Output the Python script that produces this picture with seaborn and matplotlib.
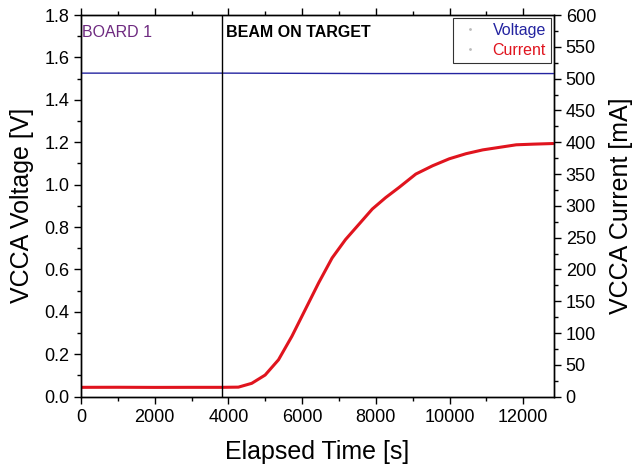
import numpy as np
import pandas as pd
import matplotlib
matplotlib.use("Agg")
import matplotlib.pyplot as plt
from matplotlib.lines import Line2D
from matplotlib.ticker import MultipleLocator, FormatStrFormatter
import seaborn as sns

# Values
time_current = [0, 1000, 2000, 3000, 3815, 4270, 4632, 4995, 5358, 5722, 6085,
                6448, 6812, 7176, 7540, 7903, 8266, 8630, 9084, 9538, 9992,
                10446, 10900, 11354, 11808, 12262, 12807]
current_ma = [14.7, 14.8, 14.6, 14.7, 14.7, 15.0, 21, 34, 58, 95, 137,
              179, 218, 247, 271, 295, 313, 329, 350, 363, 374,
              382, 388, 392, 396, 397, 398]
time_voltage = [0, 4000, 8000, 12830]
voltage_v = [1.526, 1.526, 1.524, 1.524]
beam_on_time = 3815

sns.set_theme(style="ticks", rc={'text.color': 'black', 'axes.labelcolor': 'black',
                                 'xtick.color': 'black', 'ytick.color': 'black'})
plt.rcParams['font.family'] = ['Liberation Sans', 'DejaVu Sans']

fig = plt.figure(figsize=(6.33, 4.70), dpi=100)
ax = fig.add_axes([0.128, 0.156, 0.747, 0.812])
ax2 = ax.twinx()

volt = pd.DataFrame({'t': time_voltage, 'v': voltage_v})
cur = pd.DataFrame({'t': time_current, 'i': current_ma})

sns.lineplot(data=volt, x='t', y='v', ax=ax, color='#2424a0', linewidth=1.0)
sns.lineplot(data=cur, x='t', y='i', ax=ax2, color='#e0141e', linewidth=2.2)

ax.axvline(beam_on_time, color='black', linewidth=1.0)

ax.set_xlim(0, 12830)
ax.set_ylim(0, 1.8)
ax2.set_ylim(0, 600)

ax.xaxis.set_major_locator(MultipleLocator(2000))
ax.xaxis.set_minor_locator(MultipleLocator(1000))
ax.yaxis.set_major_locator(MultipleLocator(0.2))
ax.yaxis.set_minor_locator(MultipleLocator(0.1))
ax2.yaxis.set_major_locator(MultipleLocator(50))
ax2.yaxis.set_minor_locator(MultipleLocator(25))
ax.yaxis.set_major_formatter(FormatStrFormatter('%.1f'))

ax.tick_params(axis='both', which='major', labelsize=13, length=5, width=1,
               direction='out', color='black', labelcolor='black')
ax.tick_params(axis='both', which='minor', length=3, width=1, direction='out')
ax.tick_params(axis='x', which='both', top=True, pad=4)
ax2.tick_params(axis='y', which='major', labelsize=13, length=5, width=1,
                direction='out', labelcolor='black')
ax2.tick_params(axis='y', which='minor', length=3, width=1, direction='out')

for a in (ax, ax2):
    for s in a.spines.values():
        s.set_visible(True)
        s.set_color('black')
        s.set_linewidth(1.0)

ax.set_xlabel('Elapsed Time [s]', fontsize=18, labelpad=10)
ax.set_ylabel('VCCA Voltage [V]', fontsize=18, labelpad=7)
ax2.set_ylabel('VCCA Current [mA]', fontsize=18, labelpad=9)

ax.text(0.003, 0.975, 'BOARD 1', transform=ax.transAxes, color='#6e2a80',
        fontsize=11.5, va='top', ha='left')
ax.text(beam_on_time + 120, 1.755, 'BEAM ON TARGET', color='black',
        fontsize=11.5, fontweight='bold', va='top', ha='left')

handles = [Line2D([], [], linestyle='none', marker='.', markersize=2, color='#bbbbbb'),
           Line2D([], [], linestyle='none', marker='.', markersize=2, color='#bbbbbb')]
leg = ax.legend(handles, ['Voltage', 'Current'], loc='upper right',
                bbox_to_anchor=(1.0, 1.0), fontsize=11.5, frameon=True,
                fancybox=False, borderaxespad=0.2, handletextpad=0.6,
                handlelength=1.6, labelspacing=0.3, borderpad=0.3,
                markerfirst=True)
leg.get_frame().set_edgecolor('black')
leg.get_frame().set_linewidth(0.8)
leg.get_texts()[0].set_color('#2424a0')
leg.get_texts()[1].set_color('#e0141e')
leg.set_zorder(10)
ax.set_zorder(ax2.get_zorder() + 1)
ax.patch.set_visible(False)

fig.savefig('out.png', dpi=100)
